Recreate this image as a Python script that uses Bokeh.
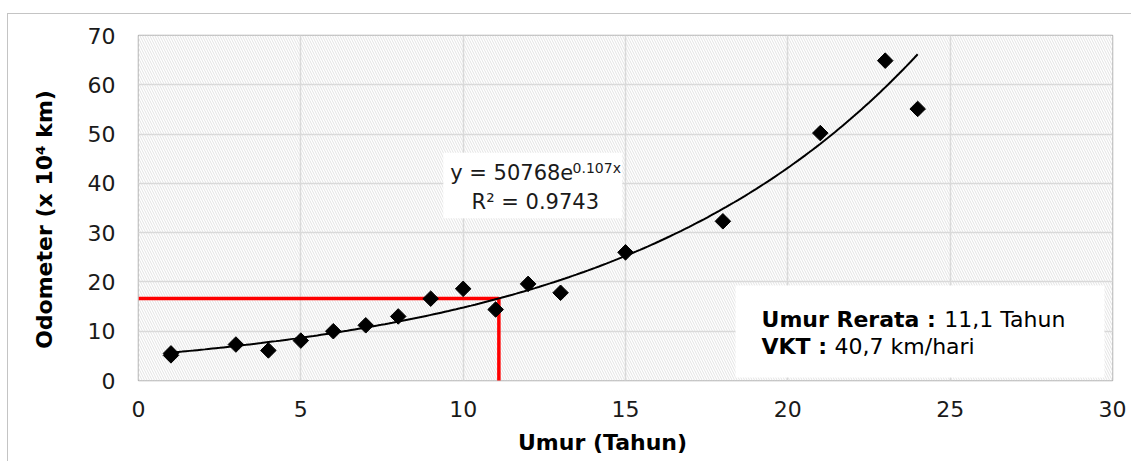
import numpy as np
from bokeh.plotting import figure
from bokeh.models import BoxAnnotation, Label, Range1d, FixedTicker
from bokeh.embed import file_html
from bokeh.resources import INLINE

# ---- data ----
umur = [1, 1, 3, 4, 5, 6, 7, 8, 9, 10, 11, 12, 13, 15, 18, 21, 23, 24]
odometer = [5.1, 5.5, 7.3, 6.1, 8.1, 10.0, 11.2, 13.0, 16.6, 18.6, 14.4, 19.6, 17.8, 26.0, 32.3, 50.2, 64.9, 55.1]
x_ticks = [0, 5, 10, 15, 20, 25, 30]
y_ticks = [0, 10, 20, 30, 40, 50, 60, 70]
fit_a = 50768.0      # y = a * e^(b x)  (km)
fit_b = 0.107
fit_r2 = 0.9743
umur_rerata = 11.1
vkt = 40.7

# trend line from the fitted equation (in x 10^4 km)
tx = np.linspace(min(umur), max(umur), 200)
ty = fit_a * np.exp(fit_b * tx) / 1e4
y_rerata = fit_a * np.exp(fit_b * umur_rerata) / 1e4

p = figure(width=1131, height=461, x_range=Range1d(0, 30), y_range=Range1d(0, 70),
           output_backend="svg", toolbar_location=None,
           min_border_left=138, min_border_right=19, min_border_top=35, min_border_bottom=81)
p.border_fill_color = None
p.background_fill_color = "white"
p.styles = {"background": "linear-gradient(#c4c4c4,#c4c4c4) 7px 13px / 1px 100% no-repeat, "
                          "linear-gradient(#c4c4c4,#c4c4c4) 7px 13px / 100% 1px no-repeat, white"}
p.outline_line_color = "#b0b0b0"
p.outline_line_width = 1.5

# hatched plot area
p.add_layout(BoxAnnotation(fill_color="white", fill_alpha=1, hatch_pattern="\\", hatch_color="#e3e3e3",
                           hatch_scale=5, hatch_weight=1, line_color=None, level="image"))

for ax in (p.xaxis, p.yaxis):
    ax.axis_line_color = None
    ax.major_tick_line_color = None
    ax.minor_tick_line_color = None
    ax.major_tick_out = 0
    ax.major_tick_in = 0
    ax.major_label_text_font = "DejaVu Sans"
    ax.major_label_text_font_size = "22px"
    ax.major_label_text_color = "#1a1a1a"
    ax.axis_label_text_font = "DejaVu Sans"
    ax.axis_label_text_font_style = "bold"
    ax.axis_label_text_font_size = "22px"
    ax.axis_label_text_color = "black"
p.xaxis.ticker = FixedTicker(ticks=x_ticks)
p.yaxis.ticker = FixedTicker(ticks=y_ticks)
p.xaxis.major_label_standoff = 20
p.yaxis.major_label_standoff = 23
nb = "\u00a0"
p.xaxis.axis_label = "Umur (Tahun)" + nb * 6
p.yaxis.axis_label = "Odometer (x 10⁴ km)" + nb * 3
p.xaxis.axis_label_standoff = 10
p.yaxis.axis_label_standoff = 28

p.xgrid.ticker = FixedTicker(ticks=x_ticks)
p.ygrid.ticker = FixedTicker(ticks=y_ticks)
p.grid.grid_line_color = "#d9d9d9"
p.grid.grid_line_width = 1.5

# red guide lines
p.line([0, umur_rerata], [y_rerata, y_rerata], line_color="#ff0000", line_width=3.5)
p.line([umur_rerata, umur_rerata], [y_rerata, -3], line_color="#ff0000", line_width=3.5)

# trend + points
p.line(tx, ty, line_color="black", line_width=2)
p.scatter(umur, odometer, marker="square", angle=np.pi / 4, size=11, color="black")

# equation box
p.add_layout(BoxAnnotation(left=9.39, right=14.9, bottom=32.9, top=46.2,
                           fill_color="white", fill_alpha=1, line_color=None))
p.add_layout(Label(x=9.6, y=42.2, text="y = %de" % int(fit_a), text_font="DejaVu Sans",
                   text_font_size="21px", text_color="#1a1a1a", text_baseline="alphabetic"))
p.add_layout(Label(x=13.37, y=43.2, text="%.3fx" % fit_b, text_font="DejaVu Sans",
                   text_font_size="14px", text_color="#1a1a1a", text_baseline="alphabetic"))
p.add_layout(Label(x=10.26, y=36.3, text="R² = %.4f" % fit_r2, text_font="DejaVu Sans",
                   text_font_size="21px", text_color="#1a1a1a", text_baseline="alphabetic"))

# info box
p.add_layout(BoxAnnotation(left=18.39, right=29.75, bottom=0.6, top=19.3,
                           fill_color="white", fill_alpha=1, line_color=None))
p.add_layout(Label(x=19.19, y=12.3, text="Umur Rerata :", text_font="DejaVu Sans", text_font_style="bold",
                   text_font_size="22px", text_color="black", text_baseline="alphabetic"))
p.add_layout(Label(x=24.82, y=12.3, text=("%.1f" % umur_rerata).replace(".", ",") + " Tahun",
                   text_font="DejaVu Sans", text_font_size="22px", text_color="black", text_baseline="alphabetic"))
p.add_layout(Label(x=19.19, y=6.8, text="VKT :", text_font="DejaVu Sans", text_font_style="bold",
                   text_font_size="22px", text_color="black", text_baseline="alphabetic"))
p.add_layout(Label(x=21.44, y=6.8, text=("%.1f" % vkt).replace(".", ",") + " km/hari",
                   text_font="DejaVu Sans", text_font_size="22px", text_color="black", text_baseline="alphabetic"))

open("out.html", "w").write(file_html(p, INLINE))
